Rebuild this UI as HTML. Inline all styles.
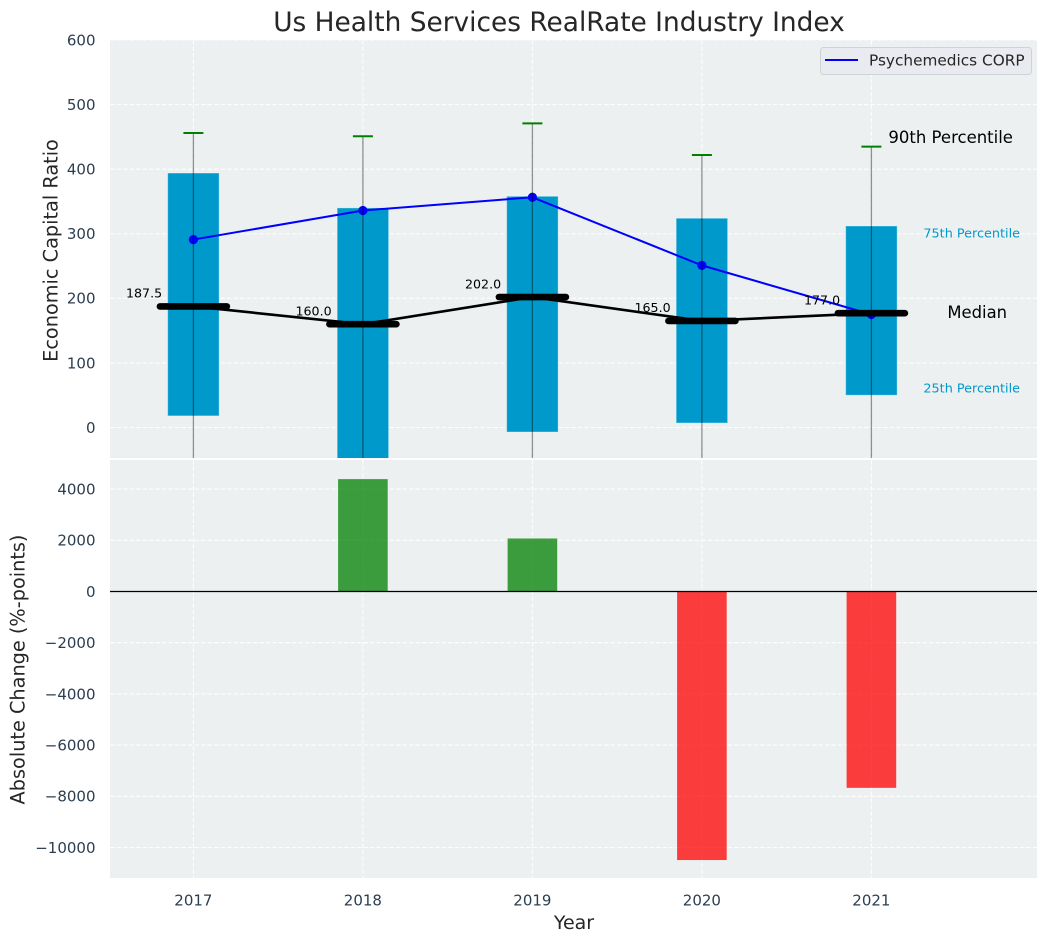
<!DOCTYPE html>
<html>
<head>
<meta charset="utf-8">
<title>Us Health Services RealRate Industry Index</title>
<style>
html,body{margin:0;padding:0;background:#fff;width:1048px;height:942px;overflow:hidden}
svg{display:block}
text{font-family:"DejaVu Sans","Liberation Sans",sans-serif}
</style>
</head>
<body>
<svg id="chart" width="1048" height="942" viewBox="0 0 1048 942" xmlns="http://www.w3.org/2000/svg">
  <defs>
    <clipPath id="clip-top"><rect x="110" y="40" width="927" height="418"/></clipPath>
    <clipPath id="clip-bottom"><rect x="110" y="460" width="927" height="418"/></clipPath>
  </defs>
  <text x="559" y="31" font-size="26.4" fill="#262626" text-anchor="middle">Us Health Services RealRate Industry Index</text>
  <rect x="110" y="40" width="927" height="418" fill="#ecf0f1"/>
  <rect x="110" y="460" width="927" height="418" fill="#ecf0f1"/>
  <g id="grid"></g>
  <g id="top-marks" clip-path="url(#clip-top)"></g>
  <g id="bottom-marks" clip-path="url(#clip-bottom)"></g>
  <g id="labels"></g>
  <text transform="translate(52,250.5) rotate(-90)" font-size="19.3" fill="#262626" text-anchor="middle" dominant-baseline="middle">Economic Capital Ratio</text>
  <text transform="translate(19,669.5) rotate(-90)" font-size="19.3" fill="#262626" text-anchor="middle" dominant-baseline="middle">Absolute Change (%-points)</text>
  <text x="574" y="929" font-size="19" fill="#262626" text-anchor="middle">Year</text>
  <g>
    <rect x="820.5" y="47.5" width="211" height="27" rx="3" fill="#e9ebf0" stroke="#cfd2d6" stroke-width="1"/>
    <line x1="825" y1="60" x2="858" y2="60" stroke="#0000ff" stroke-width="2"/>
    <text x="869" y="65.5" font-size="15.3" fill="#262626">Psychemedics CORP</text>
  </g>
</svg>
<script>
const years = [2017, 2018, 2019, 2020, 2021];
const p10 = [-150, -150, -120, -130, -110];
const p25 = [18, -70, -7, 7, 50];
const medians = [187.5, 160, 202, 165, 177];
const p75 = [394, 340, 358, 324, 312];
const p90 = [456, 451, 471, 422, 435];
const company = [291, 336, 356.5, 251, 175];
const changes = [0, 4390, 2070, -10490, -7670];
const topTicks = [0, 100, 200, 300, 400, 500, 600];
const bottomTicks = [-10000, -8000, -6000, -4000, -2000, 0, 2000, 4000];

const NS = 'http://www.w3.org/2000/svg';
const xScale = v => 193.4 + (v - 2017) * 169.5;
const yTop = v => 427.5 - v * 0.64583;
const yBottom = v => 591.5 - v * 0.0256;
const BAR_W = 0.3 * 169.5 + 0.6;

function make(parent, tag, attrs, text) {
  const el = document.createElementNS(NS, tag);
  for (const k in attrs) el.setAttribute(k, attrs[k]);
  if (text !== undefined) el.textContent = text;
  parent.appendChild(el);
  return el;
}
const grid = document.getElementById('grid');
const topG = document.getElementById('top-marks');
const botG = document.getElementById('bottom-marks');
const labelG = document.getElementById('labels');
const gridStyle = {stroke: '#ffffff', 'stroke-width': 1.1, 'stroke-dasharray': '4.5 2', opacity: 0.9};

topTicks.forEach(t => {
  const y = yTop(t);
  const gl = make(grid, 'line', Object.assign({x1: 110, x2: 1037, y1: y, y2: y}, gridStyle));
  
  
  const tl = make(labelG, 'text', {x: 95.5, y: y + 5.4, 'font-size': 15, fill: '#2c3e50', 'text-anchor': 'end'}, String(t));
  
  
});
bottomTicks.forEach(t => {
  const y = yBottom(t);
  const gl = make(grid, 'line', Object.assign({x1: 110, x2: 1037, y1: y, y2: y}, gridStyle));
  
  
  const tl = make(labelG, 'text', {x: 95.5, y: y + 5.4, 'font-size': 15, fill: '#2c3e50', 'text-anchor': 'end'}, String(t).replace('-', '\u2212'));
  
  
});
years.forEach(yr => {
  const x = xScale(yr);
  const g1 = make(grid, 'line', Object.assign({x1: x, x2: x, y1: 40, y2: 458}, gridStyle));
  
  
  const g2 = make(grid, 'line', Object.assign({x1: x, x2: x, y1: 460, y2: 878}, gridStyle));
  
  
  const tl = make(labelG, 'text', {x: x, y: 905.5, 'font-size': 15, fill: '#2c3e50', 'text-anchor': 'middle'}, String(yr));
  
  
});

// interquartile boxes
years.forEach((yr, i) => {
  const x = xScale(yr);
  const top = yTop(p75[i]);
  const r = make(topG, 'rect', {x: x - BAR_W / 2, y: top, width: BAR_W, height: yTop(p25[i]) - top, fill: '#0099cc', stroke: '#ffffff', 'stroke-opacity': 0.35, 'stroke-width': 1});
  
  
});
// company line
const companyLine = make(topG, 'polyline', {points: years.map((yr, i) => xScale(yr) + ',' + yTop(company[i])).join(' '), fill: 'none', stroke: '#0000ff', 'stroke-width': 2});


years.forEach((yr, i) => {
  const d = make(topG, 'circle', {cx: xScale(yr), cy: yTop(company[i]), r: 4.6, fill: '#0000ff'});
  
  
});
// whiskers and caps
years.forEach((yr, i) => {
  const x = xScale(yr);
  const w = make(topG, 'line', {x1: x, x2: x, y1: yTop(p90[i]), y2: yTop(p10[i]), stroke: '#000000', 'stroke-opacity': 0.42, 'stroke-width': 1.3});
  
  
  const c = make(topG, 'line', {x1: x - 10, x2: x + 10, y1: yTop(p90[i]), y2: yTop(p90[i]), stroke: '#008000', 'stroke-width': 2});
  
  
});
// median line and thick median markers
const medianLine = make(topG, 'polyline', {points: years.map((yr, i) => xScale(yr) + ',' + yTop(medians[i])).join(' '), fill: 'none', stroke: '#000000', 'stroke-width': 2.6});


years.forEach((yr, i) => {
  const x = xScale(yr);
  const y = yTop(medians[i]);
  const m = make(topG, 'line', {x1: x - 33.5, x2: x + 33.5, y1: y, y2: y, stroke: '#000000', 'stroke-width': 6.6, 'stroke-linecap': 'round'});
  
  
  const t = make(topG, 'text', {x: x - 31.3, y: y - 8.7, 'font-size': 12.6, fill: '#000000', 'text-anchor': 'end'}, medians[i].toFixed(1));
  
  
});
// annotations tied to final year
const last = years.length - 1;
const lx = xScale(years[last]);
const a90 = make(labelG, 'text', {x: lx + 17, y: yTop(p90[last]) - 3.6, 'font-size': 16.5, fill: '#000000'}, '90th Percentile');


const a75 = make(labelG, 'text', {x: lx + 52, y: yTop(p75[last]) + 11.3, 'font-size': 12.8, fill: '#0099cc'}, '75th Percentile');


const aMed = make(labelG, 'text', {x: lx + 76, y: yTop(medians[last]) + 4.8, 'font-size': 16.4, fill: '#000000'}, 'Median');


const a25 = make(labelG, 'text', {x: lx + 52, y: yTop(p25[last]) - 2.7, 'font-size': 12.8, fill: '#0099cc'}, '25th Percentile');



// change bars
years.forEach((yr, i) => {
  if (!changes[i]) return;
  const x = xScale(yr);
  const y0 = yBottom(0);
  const y1 = yBottom(changes[i]);
  const b = make(botG, 'rect', {x: x - 24.8, y: Math.min(y0, y1), width: 49.6, height: Math.abs(y1 - y0), fill: changes[i] > 0 ? '#008000' : '#ff0000', 'fill-opacity': 0.75});
  
  
});
const zero = make(botG, 'line', {x1: 110, x2: 1037, y1: yBottom(0), y2: yBottom(0), stroke: '#000000', 'stroke-width': 1.2});


</script>
</body>
</html>
